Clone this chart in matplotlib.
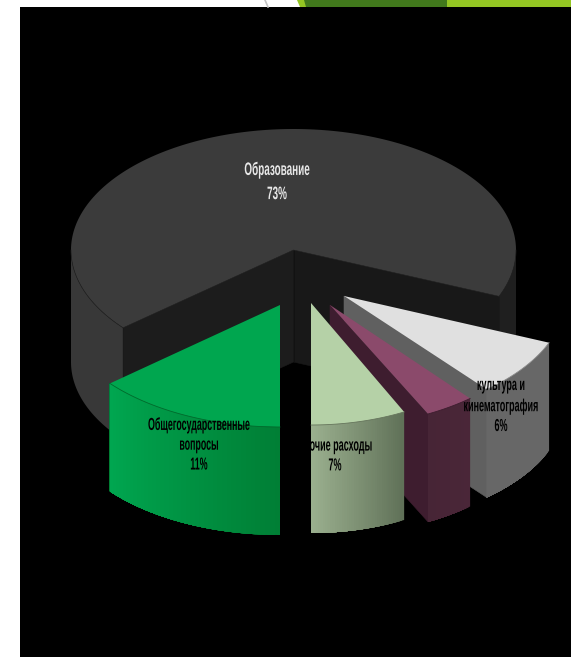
import numpy as np
import matplotlib
matplotlib.use("Agg")
import matplotlib.pyplot as plt
from matplotlib.colors import to_rgb
from matplotlib.patheffects import AbstractPathEffect
from matplotlib.transforms import Affine2D

# Shares in %, clockwise on screen starting from the big slice
labels = ["Образование\n73%", "культура и\nкинематография\n6%", "", "Прочие расходы\n7%", "Общегосударственные\nвопросы\n11%"]
shares = [73, 6, 3, 7, 11]
top_colors = ["#3b3b3b", "#e0e0e0", "#8b4a6b", "#b5d1a7", "#00a64f"]
side_from = ["#383838", "#676767", "#4a2638", "#5f7057", "#007f35"]  # colour at low angle end
side_to = ["#1f1f1f", "#676767", "#472536", "#9bb08f", "#00a650"]

start_angle = 129.6
depth = 108
plt.rcParams["font.family"] = ["Liberation Sans", "DejaVu Sans"]

# perspective stretches the near part of the pie
true_angle = [0, 32, 54, 65, 90, 130, 180]
seen_angle = [-15, 22, 50, 63.5, 90, 140.5, 205]


def warp(t):
    return np.interp(t, true_angle, seen_angle)


def pt(c, r, a):
    a = np.radians(a)
    return np.array([c[0] + r[0] * np.cos(a), c[1] + r[1] * np.sin(a)])


def arc(c, r, a0, a1, n=60):
    return np.array([pt(c, r, a) for a in np.linspace(a0, a1, n)])


def draw_wall(ax, c, r, a0, a1, col0, col1, d=depth, n=40):
    # outer wall as overlapping strips, so the colour can change along the arc
    c0, c1 = np.array(to_rgb(col0)), np.array(to_rgb(col1))
    edges = np.linspace(a0, a1, n + 1)
    for i in range(n):
        strip = arc(c, r, edges[i], a1, 60)
        poly = np.vstack([strip, strip[::-1] + [0, d]])
        col = c0 + (c1 - c0) * (i + 0.5) / n
        ax.fill(poly[:, 0], poly[:, 1], color=col, lw=0)


def draw_cut(ax, c, r, a, col, d=depth):
    p = pt(c, r, a)
    poly = np.array([c, p, p + [0, d], np.array(c) + [0, d]])
    ax.fill(poly[:, 0], poly[:, 1], color=col, lw=0.4)


class Squeeze(AbstractPathEffect):
    # the labels in the picture are squeezed sideways, no narrow font here
    def __init__(self, sx, cx):
        super().__init__()
        self.sx = sx
        self.cx = cx

    def draw_path(self, renderer, gc, tpath, affine, rgbFace=None):
        squeeze = Affine2D().translate(-self.cx, 0).scale(self.sx, 1).translate(self.cx, 0)
        renderer.draw_path(gc, tpath, affine + squeeze, rgbFace)


fig = plt.figure(figsize=(5.71, 6.57), dpi=100, facecolor="white")
ax = fig.add_axes([0, 0, 1, 1])
ax.set_xlim(0, 571)
ax.set_ylim(657, 0)
ax.axis("off")

# bits of the slide behind the chart
ax.plot([265, 268], [0, 7], color="#c4c4c4", lw=1.2)
ax.fill([297, 571, 571, 300], [0, 0, 7, 7], color="#94c623", lw=0)
ax.fill([304, 447, 447, 306], [0, 0, 7, 7], color="#41791c", lw=0)
ax.fill([20, 571, 571, 20], [7, 7, 657, 657], color="black", lw=0)

# slice boundaries from the shares
cum = np.concatenate([[0], np.cumsum(shares)])
bounds = [(start_angle + v * 3.6) % 360 for v in cum]
ang = [(warp(bounds[i]), warp(bounds[i + 1])) for i in range(len(shares))]
ang[0] = (ang[0][0], ang[0][1] + 360)

# big slice, stays in place
c = (293.5, 250)
r = (222.5, 121)
main_depth = 112
a0, a1 = ang[0]
draw_wall(ax, c, r, a0, 180, side_from[0], side_from[0], d=main_depth, n=1)
draw_wall(ax, c, r, 360, a1, side_to[0], side_to[0], d=main_depth, n=1)
draw_cut(ax, c, r, a0, "#1c1c1c", d=main_depth)
draw_cut(ax, c, r, a1, "#181818", d=main_depth)
top = np.vstack([[c], arc(c, r, a0, a1, 200)])
ax.fill(top[:, 0], top[:, 1], color=top_colors[0], lw=0)
ax.plot(*arc(c, r, a0, 180).T, color="#222222", lw=0.5)
ax.plot(*arc(c, r, 360, a1).T, color="#222222", lw=0.5)
ax.plot([c[0], c[0]], [c[1], c[1] + main_depth], color="#101010", lw=0.5)
ax.plot(*np.array([pt(c, r, a0), c, pt(c, r, a1)]).T, color="#222222", lw=0.4)

# exploded slices, back to front
apex = {1: (344, 296), 2: (330, 305), 3: (311, 303), 4: (280, 305)}
radii = {1: (222, 122), 2: (218, 122), 3: (207, 122), 4: (222, 122)}
cut_cols = {1: "#606060", 2: "#3e1d2f"}
arc_cols = {1: "#8a8a8a", 2: "#3e1d2f", 3: "#66755c", 4: "#006a2c"}
for i in [1, 2, 3, 4]:
    c_i, r_i = apex[i], radii[i]
    a0, a1 = ang[i]
    if i in cut_cols:
        draw_cut(ax, c_i, r_i, a1, cut_cols[i])
    draw_wall(ax, c_i, r_i, a0, a1, side_from[i], side_to[i])
    top = np.vstack([[c_i], arc(c_i, r_i, a0, a1)])
    ax.fill(top[:, 0], top[:, 1], color=top_colors[i], lw=0)
    ax.plot(*arc(c_i, r_i, a0, a1).T, color=arc_cols[i], lw=0.6)

# labels
label_pos = [(277, 182), (501, 406), None, (335, 456), (199, 445)]
label_col = ["#e8e8e8", "black", None, "black", "black"]
label_size = [13, 12.5, None, 12.5, 12.5]
label_gap = [1.55, 1.4, None, 1.4, 1.4]
label_squeeze = [0.55, 0.52, None, 0.52, 0.51]
for i in range(len(labels)):
    if labels[i]:
        x, y = label_pos[i]
        ax.text(x, y, labels[i], color=label_col[i], ha="center", va="center", multialignment="center",
                fontsize=label_size[i], fontweight="bold", linespacing=label_gap[i],
                path_effects=[Squeeze(label_squeeze[i], x)])

plt.savefig("out.png", dpi=100)
